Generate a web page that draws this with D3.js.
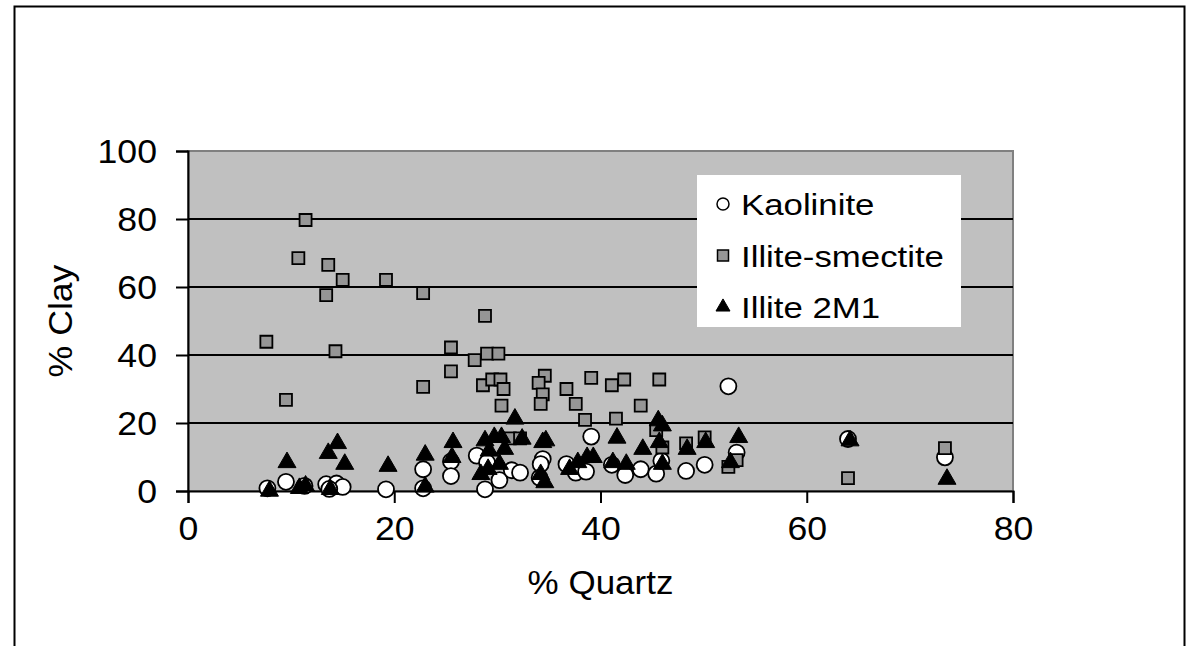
<!DOCTYPE html>
<html>
<head>
<meta charset="utf-8">
<script src="https://cdn.jsdelivr.net/npm/d3@7"></script>
<style>
  html, body { margin: 0; padding: 0; background: #fff; }
  svg { display: block; }
  text { font-family: Arial, "Liberation Sans", sans-serif; fill: #000; }
</style>
</head>
<body>
<svg id="chart" width="1188" height="646"></svg>
<script>
// % Quartz vs % Clay for three clay minerals
const kaolinite = [
  [7.7,0.8],[9.5,2.7],[11.3,1.5],[13.4,2.0],[14.4,2.2],[15.0,1.2],[13.7,0.6],[19.2,0.5],
  [22.8,6.4],[22.8,0.8],[25.5,8.7],[25.5,4.4],[28.0,10.4],[28.8,0.5],[29.0,8.4],[30.2,3.2],
  [31.4,6.1],[32.2,5.4],[34.4,9.4],[34.2,7.9],[34.1,3.9],[36.7,7.9],[37.6,5.4],[38.6,5.7],
  [39.1,16.0],[41.1,7.7],[42.4,4.7],[43.9,6.4],[45.4,5.1],[45.9,8.9],[48.3,5.9],[50.1,7.7],
  [52.4,30.8],[53.2,11.3],[64.0,15.3],[73.4,9.9]
];
const illiteSmectite = [
  [7.6,43.9],[9.5,26.8],[10.7,68.5],[11.4,79.7],[13.6,66.5],[13.4,57.6],[15.0,62.1],[14.3,41.1],
  [19.2,62.1],[22.8,58.2],[22.8,30.6],[25.5,42.2],[25.5,35.2],[27.8,38.5],[28.8,51.5],[29.0,40.4],
  [30.1,40.4],[28.6,31.1],[29.5,32.8],[30.3,32.8],[30.6,30.0],[30.4,25.1],[31.2,15.5],[32.2,15.5],
  [34.6,33.9],[34.0,31.8],[34.4,28.4],[34.2,25.6],[36.7,30.0],[37.6,25.6],[38.5,20.9],[39.1,33.3],
  [41.1,31.1],[42.3,32.8],[41.5,21.3],[43.9,25.1],[45.7,32.8],[45.4,17.9],[46.0,12.8],[48.3,14.0],
  [50.1,15.8],[52.4,7.1],[53.2,9.1],[64.0,3.8],[73.4,12.6]
];
const illite2M1 = [
  [7.9,0.0],[9.6,8.4],[10.8,0.8],[11.4,1.5],[13.6,11.1],[14.5,14.0],[15.2,7.9],[13.8,0.5],
  [19.4,7.3],[23.0,10.6],[23.0,1.2],[25.7,14.3],[25.6,9.9],[28.8,14.8],[29.7,15.8],[30.4,15.8],
  [30.7,12.3],[29.2,11.8],[30.2,7.9],[28.4,4.9],[29.1,6.4],[31.7,21.2],[32.4,15.3],[34.4,14.3],
  [34.7,14.8],[34.2,4.9],[34.6,2.5],[37.0,6.4],[37.8,8.4],[38.7,9.9],[39.3,9.9],[41.6,15.6],
  [41.2,8.4],[42.5,7.9],[44.1,12.3],[45.6,20.7],[46.0,19.2],[45.7,14.3],[46.0,7.9],[48.4,12.3],
  [50.2,14.3],[52.6,8.4],[53.4,15.8],[64.2,14.8],[73.6,3.5]
];
const xTicks = [0, 20, 40, 60, 80];
const yTicks = [0, 20, 40, 60, 80, 100];
const seriesNames = ["Kaolinite", "Illite-smectite", "Illite 2M1"];

const svg = d3.select("#chart");
const plot = { left: 188, top: 151, right: 1013, bottom: 491 };

const x = d3.scaleLinear().domain([0, 80]).range([plot.left, plot.right]);
const y = d3.scaleLinear().domain([0, 100]).range([plot.bottom, plot.top]);

// widen a text element horizontally about its anchor point
function stretch(sel, sx) {
  sel.each(function () {
    const t = d3.select(this);
    const tx = +t.attr("x") || 0, ty = +t.attr("y") || 0;
    t.attr("x", 0).attr("y", 0)
     .attr("transform", `translate(${tx},${ty}) scale(${sx},1)`);
  });
}

// outer chart frame
svg.append("rect")
  .attr("x", 14.5).attr("y", 6.5).attr("width", 1170).attr("height", 660)
  .attr("fill", "none").attr("stroke", "#000").attr("stroke-width", 2);

// plot area
svg.append("rect")
  .attr("x", plot.left).attr("y", plot.top)
  .attr("width", plot.right - plot.left).attr("height", plot.bottom - plot.top)
  .attr("fill", "#c0c0c0").attr("stroke", "#808080").attr("stroke-width", 2);

// horizontal gridlines
svg.append("g").selectAll("line")
  .data(yTicks.filter(d => d > 0 && d < 100))
  .join("line")
  .attr("x1", plot.left).attr("x2", plot.right)
  .attr("y1", d => y(d)).attr("y2", d => y(d))
  .attr("stroke", "#000").attr("stroke-width", 2);

// axes
const xAxis = svg.append("g")
  .attr("transform", `translate(0,${plot.bottom})`)
  .call(d3.axisBottom(x).tickValues(xTicks).tickSize(12).tickPadding(14));
const yAxis = svg.append("g")
  .attr("transform", `translate(${plot.left},0)`)
  .call(d3.axisLeft(y).tickValues(yTicks).tickSize(12).tickPadding(19));
[xAxis, yAxis].forEach(g => {
  g.selectAll(".domain").attr("stroke", "#000").attr("stroke-width", 2);
  g.selectAll(".tick line").attr("stroke", "#000").attr("stroke-width", 2);
  g.selectAll(".tick text").style("font-size", "33px")
    .style("font-family", "Arial, 'Liberation Sans', sans-serif").attr("fill", "#000");
});
yAxis.selectAll(".tick text").attr("dy", "0.36em");
stretch(xAxis.selectAll(".tick text"), 1.08);
stretch(yAxis.selectAll(".tick text"), 1.08);

// axis titles
svg.append("text")
  .attr("transform", `translate(${(plot.left + plot.right) / 2},594) scale(1.06,1)`)
  .attr("text-anchor", "middle").style("font-size", "33px")
  .text("% Quartz");
svg.append("text")
  .attr("transform", `translate(72,${(plot.top + plot.bottom) / 2}) rotate(-90) scale(1.08,1)`)
  .attr("text-anchor", "middle").style("font-size", "33px")
  .text("% Clay");

// marker shapes
const sym = {
  circle: s => d3.symbol(d3.symbolCircle, s)(),
  square: s => d3.symbol(d3.symbolSquare, s)(),
  triangle: s => d3.symbol(d3.symbolTriangle, s)()
};

const pts = svg.append("g");
pts.selectAll("path.ks").data(kaolinite).join("path")
  .attr("class", "ks")
  .attr("d", sym.circle(Math.PI * 8 * 8))
  .attr("transform", d => `translate(${x(d[0])},${y(d[1])})`)
  .attr("fill", "#fff").attr("stroke", "#000").attr("stroke-width", 1.8);
pts.selectAll("path.is").data(illiteSmectite).join("path")
  .attr("class", "is")
  .attr("d", sym.square(12 * 12))
  .attr("transform", d => `translate(${x(d[0])},${y(d[1])})`)
  .attr("fill", "#969696").attr("stroke", "#000").attr("stroke-width", 1.8);
pts.selectAll("path.it").data(illite2M1).join("path")
  .attr("class", "it")
  .attr("d", sym.triangle(140))
  .attr("transform", d => `translate(${x(d[0])},${y(d[1])})`)
  .attr("fill", "#000").attr("stroke", "#000").attr("stroke-width", 1);

// legend
const legend = svg.append("g");
legend.append("rect")
  .attr("x", 697).attr("y", 175).attr("width", 264).attr("height", 152)
  .attr("fill", "#fff");
const legendSym = [
  { d: sym.circle(Math.PI * 6 * 6), fill: "#fff", sw: 1.5 },
  { d: sym.square(11 * 11), fill: "#969696", sw: 1.5 },
  { d: sym.triangle(85), fill: "#000", sw: 1 }
];
seriesNames.forEach((name, i) => {
  const cy = 204 + i * 51.5;
  legend.append("path")
    .attr("d", legendSym[i].d)
    .attr("transform", `translate(723,${cy})`)
    .attr("fill", legendSym[i].fill).attr("stroke", "#000").attr("stroke-width", legendSym[i].sw);
  legend.append("text")
    .attr("transform", `translate(741,${cy + 11}) scale(1.16,1)`)
    .style("font-size", "30px")
    .text(name);
});
</script>
</body>
</html>
